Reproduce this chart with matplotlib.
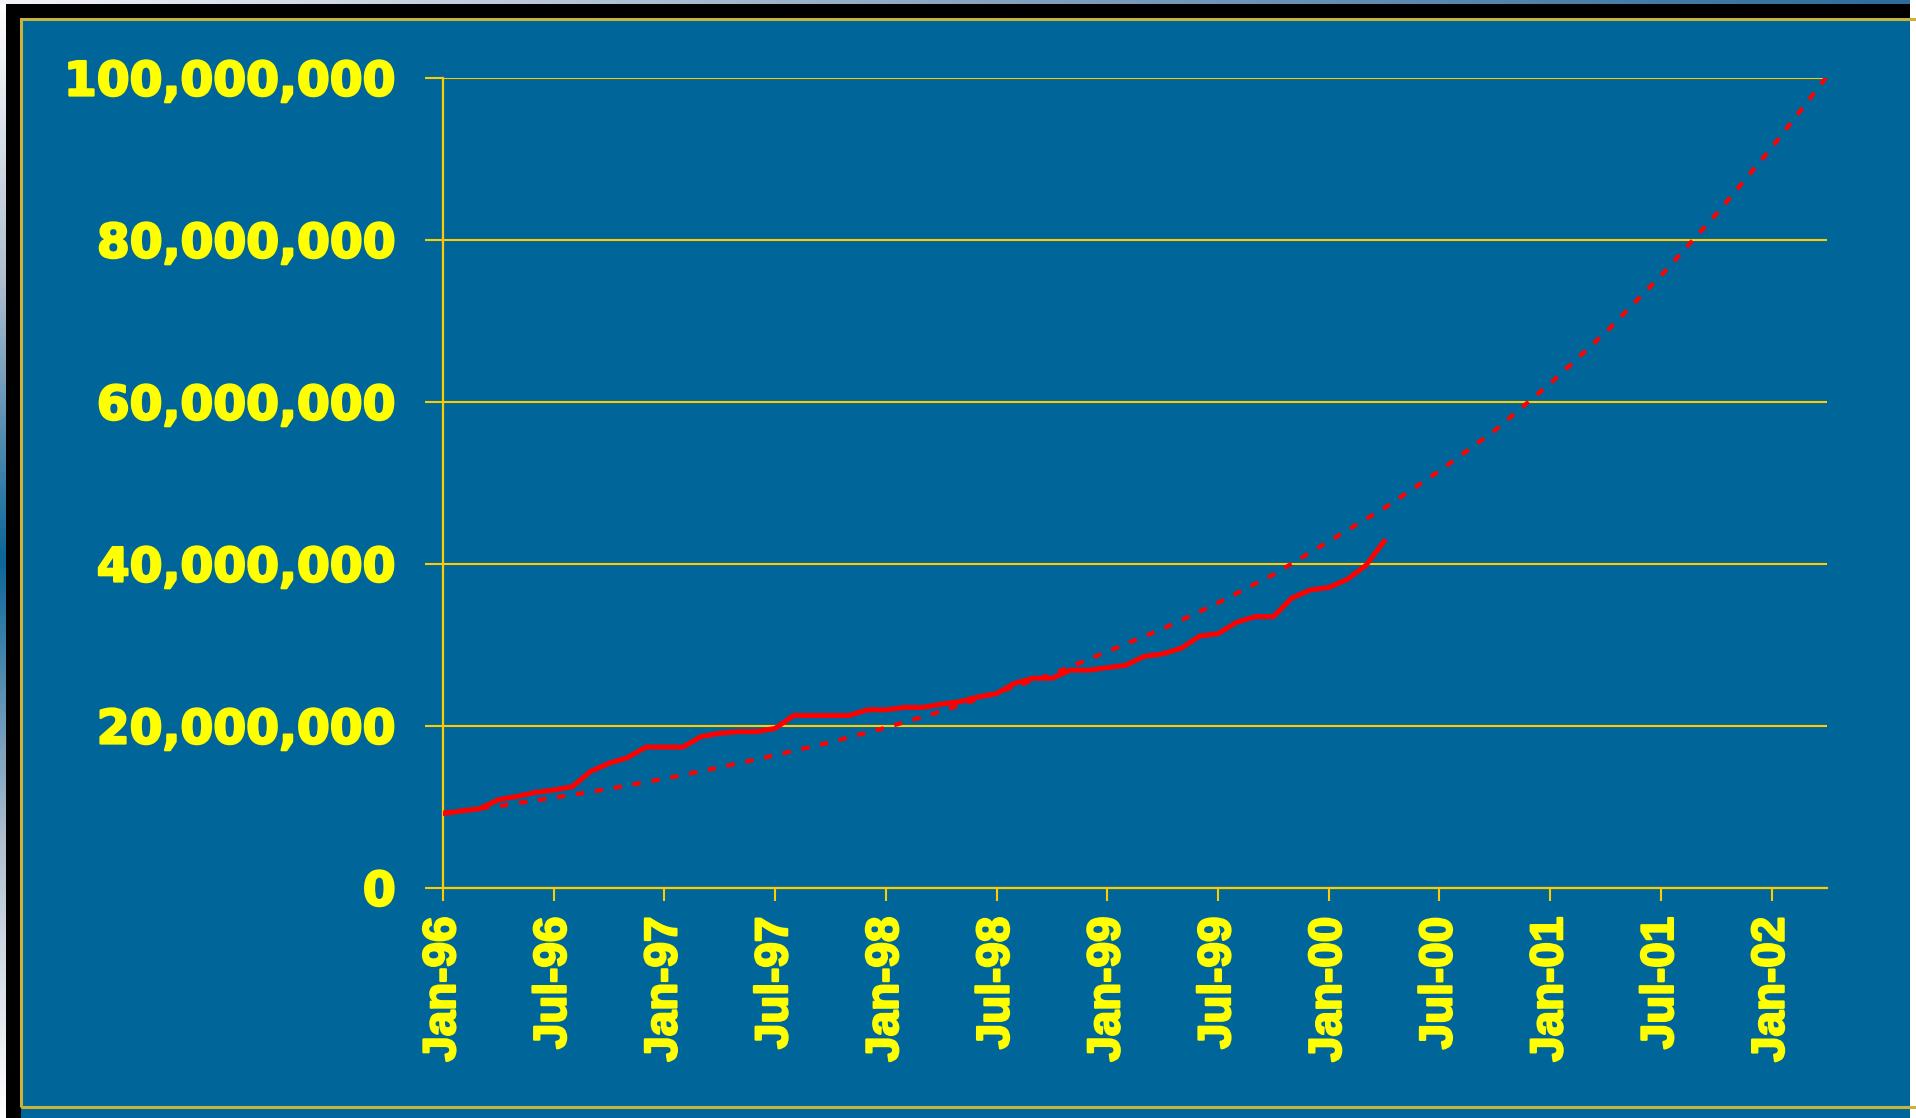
import numpy as np
import matplotlib
matplotlib.use("Agg")
import matplotlib.pyplot as plt
import matplotlib.patheffects as pe
from matplotlib.patches import Rectangle
from matplotlib.colors import LinearSegmentedColormap
from matplotlib.ticker import FuncFormatter

# monthly totals (millions), Jan-96 .. Apr-00
actual = [9.2, 9.5, 9.8, 10.9, 11.3, 11.8, 12.1, 12.5, 14.4, 15.4, 16.1, 17.4,
          17.4, 17.4, 18.7, 19.1, 19.3, 19.3, 19.7, 21.3, 21.3, 21.3, 21.3, 22.0,
          22.0, 22.3, 22.3, 22.7, 23.0, 23.6, 24.0, 25.3, 25.9, 25.9, 26.9, 26.9,
          27.2, 27.5, 28.6, 28.9, 29.6, 31.1, 31.4, 32.8, 33.5, 33.5, 35.8, 36.8,
          37.1, 38.1, 39.8, 42.8]

# trend line read every 3 months (millions), Jan-96 .. Apr-02
trend_months = [0, 3, 6, 9, 12, 15, 18, 21, 24, 27, 30, 33, 36, 39, 42, 45,
                48, 51, 54, 57, 60, 63, 66, 69, 72, 75]
trend = [9.3, 10.1, 11.15, 12.25, 13.5, 14.9, 16.4, 18.0, 19.8, 21.8, 24.1,
         26.4, 29.2, 32.0, 35.2, 38.7, 42.8, 46.9, 51.5, 56.5, 62.3, 68.6,
         75.6, 83.2, 91.4, 100.2]

tick_labels = ["Jan-96", "Jul-96", "Jan-97", "Jul-97", "Jan-98", "Jul-98",
               "Jan-99", "Jul-99", "Jan-00", "Jul-00", "Jan-01", "Jul-01",
               "Jan-02"]

W, H = 1916, 1118
BLUE = "#006699"
GRID = "#FFCC00"
TEXT = "#FFFF00"


def px_rect(x0, y0, x1, y1):
    # pixel box (from top-left) -> figure fraction [l, b, w, h]
    return [x0 / W, 1 - y1 / H, (x1 - x0) / W, (y1 - y0) / H]


def add_box(fig, x0, y0, x1, y1, **kw):
    l, b, w, h = px_rect(x0, y0, x1, y1)
    fig.add_artist(Rectangle((l, b), w, h, transform=fig.transFigure, **kw))


def add_gradient(fig, box, colors, vertical):
    ax = fig.add_axes(box)
    ax.set_axis_off()
    cmap = LinearSegmentedColormap.from_list("g", colors)
    g = np.linspace(0, 1, 256)
    img = g[:, None] if vertical else g[None, :]
    ax.imshow(img, cmap=cmap, aspect="auto", extent=[0, 1, 0, 1], origin="upper")


def main():
    fig = plt.figure(figsize=(W / 100, H / 100), dpi=100, facecolor=BLUE)

    # slide decoration: gradient strips, black shadow, yellow frame
    add_gradient(fig, px_rect(0, 0, 6, H),
                 ["#FFFFFF", "#B0BED0", "#0A6699", "#B0BED0", "#FFFFFF"], True)
    add_gradient(fig, px_rect(0, 0, W, 4),
                 ["#F4F4F8", "#8AA4C0", "#2A6C9C"], False)
    add_box(fig, 6, 4, 1910, 18, color="black", lw=0)
    add_box(fig, 6, 4, 21, H, color="black", lw=0)
    add_box(fig, 1910, 0, W, H, color="white", lw=0)
    add_box(fig, 21, 19, 1930, 1107, fill=False, edgecolor="#C8B43A",
            lw=2.2, clip_on=False)

    ax = fig.add_axes(px_rect(443, 78, 1827, 888))
    ax.set_facecolor(BLUE)

    months = np.arange(len(actual))
    ax.plot(trend_months, np.array(trend) * 1e6, color="#FF0000", lw=3.0,
            linestyle=(0, (2, 2.6)), dash_capstyle="butt", zorder=3)
    ax.plot(months, np.array(actual) * 1e6, color="#FF0000", lw=3.6,
            solid_joinstyle="round", zorder=4)

    ax.set_xlim(0, 75)
    ax.set_ylim(0, 100e6)
    ax.set_yticks(np.arange(0, 100e6 + 1, 20e6))
    ax.yaxis.set_major_formatter(FuncFormatter(lambda v, p: f"{v:,.0f}"))
    ax.set_xticks(np.arange(0, 73, 6))
    ax.set_xticklabels(tick_labels, rotation=90, color=TEXT,
                       fontfamily="Liberation Sans", fontweight="bold", fontsize=33)
    heavy = [pe.withStroke(linewidth=1.6, foreground=TEXT)]
    for lab in ax.get_xticklabels():
        lab.set_path_effects(heavy)
    for lab in ax.get_yticklabels():
        lab.set_fontfamily("DejaVu Sans")
        lab.set_fontweight("bold")
        lab.set_fontsize(34)
        lab.set_color(TEXT)
        lab.set_path_effects(heavy)

    ax.grid(axis="y", color=GRID, lw=1.5)
    ax.set_axisbelow(True)
    for side in ["top", "right"]:
        ax.spines[side].set_visible(False)
    for side in ["left", "bottom"]:
        ax.spines[side].set_color(GRID)
        ax.spines[side].set_linewidth(1.6)
    ax.tick_params(axis="y", length=13, width=1.5, color=GRID, pad=21)
    ax.tick_params(axis="x", length=9.5, width=1.5, color=GRID, pad=11)

    fig.savefig("out.png", dpi=100, facecolor=BLUE)


if __name__ == "__main__":
    main()
